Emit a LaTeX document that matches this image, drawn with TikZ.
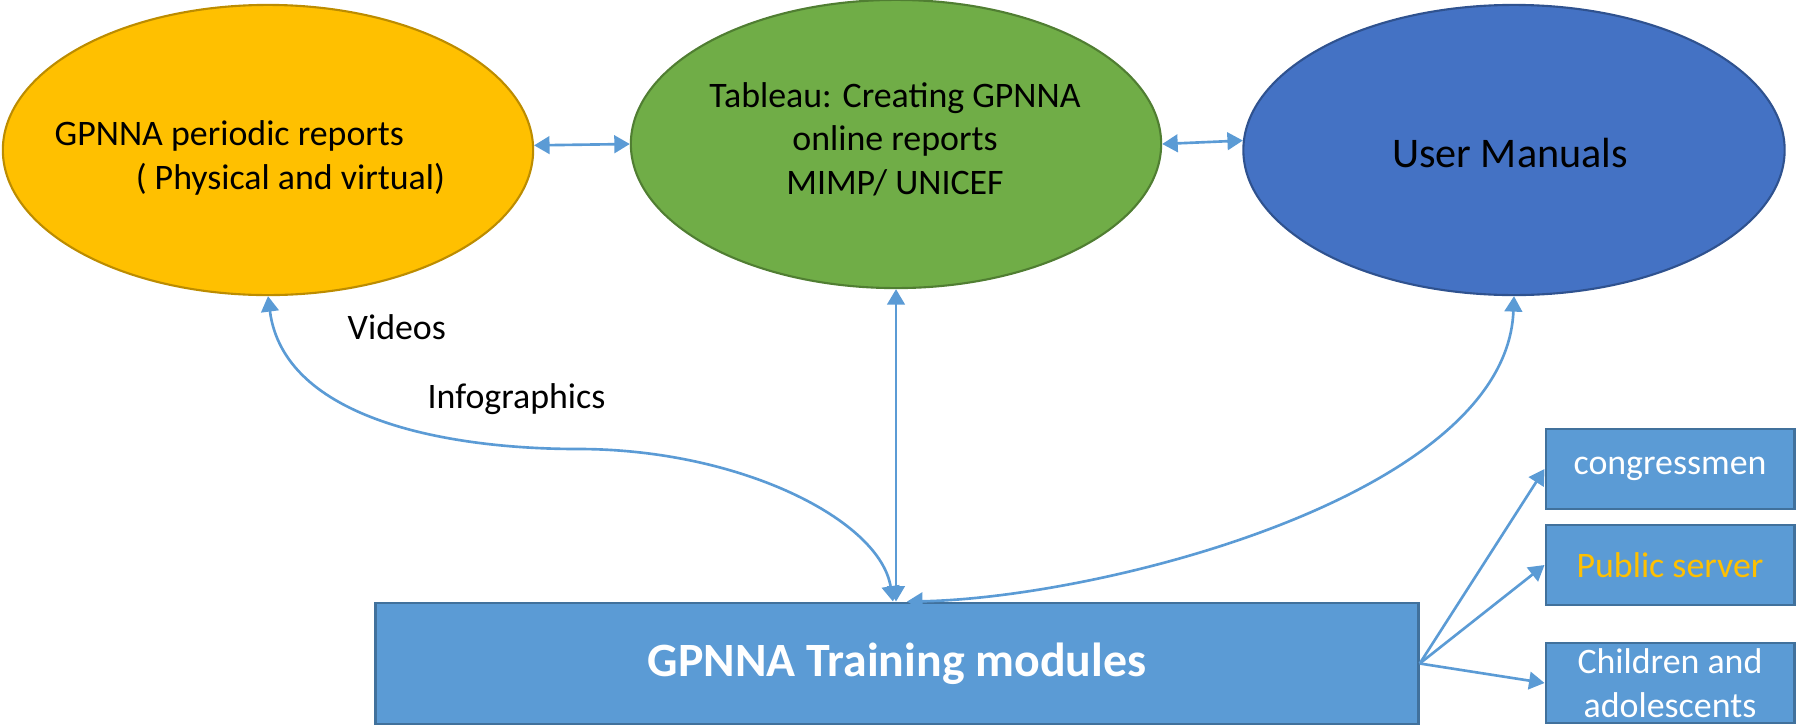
\documentclass[tikz,border=0pt]{standalone}
\usepackage{fontspec}
\setmainfont{Carlito}
\usetikzlibrary{shapes.geometric,arrows.meta}
\definecolor{cYel}{HTML}{FFC000}
\definecolor{cYelB}{HTML}{BC8C00}
\definecolor{cGrn}{HTML}{70AD47}
\definecolor{cGrnB}{HTML}{507E32}
\definecolor{cBlu}{HTML}{4472C4}
\definecolor{cBluB}{HTML}{2F528F}
\definecolor{cBox}{HTML}{5B9BD5}
\definecolor{cBoxB}{HTML}{41719C}
\begin{document}
\begin{tikzpicture}[x=0.01cm,y=-0.01cm,
  oval/.style={ellipse, inner sep=0pt, line width=0.6pt},
  txt/.style={font=\fontsize{10.2}{12.4}\selectfont, text=black, align=center, inner sep=0pt},
  box/.style={rectangle, fill=cBox, draw=cBoxB, line width=0.8pt, inner sep=0pt},
  tip/.tip={Triangle[length=4.4pt,width=5pt]},
  conn/.style={draw=cBox, line width=0.75pt, tip-tip},
  fan/.style={draw=cBox, line width=0.75pt, -tip}]
\useasboundingbox (0,0) rectangle (1797,724);
% ellipses
\node[oval, fill=cYel, draw=cYelB, minimum width=5.30cm, minimum height=2.90cm] (yel) at (268,150) {};
\node[oval, fill=cGrn, draw=cGrnB, minimum width=5.30cm, minimum height=2.88cm] (grn) at (896,144) {};
\node[oval, fill=cBlu, draw=cBluB, minimum width=5.41cm, minimum height=2.90cm] (blu) at (1514,150) {};
% ellipse texts
\node[txt, align=left, anchor=west] (yeltxt) at (54,158) {GPNNA periodic reports\\\hspace*{0.81cm}( Physical and virtual)};
\node[txt] (grntxt) at (895,139) {Tableau: Creating GPNNA\\online reports\\MIMP/ UNICEF};
\node[txt, font=\fontsize{12}{14.4}\selectfont] (blutxt) at (1510,153) {User Manuals};
% free labels
\node[txt, anchor=west] (vid) at (347,327) {Videos};
\node[txt, anchor=west] (info) at (427,399) {Infographics};
% main box
\node[box, minimum width=10.42cm, minimum height=1.21cm, text=white, font=\fontsize{13.6}{16}\selectfont\bfseries] (train) at (897,663.5) {GPNNA Training modules};
% right boxes
\node[box, minimum width=2.48cm, minimum height=0.80cm, text=white, font=\fontsize{10.2}{12.4}\selectfont] (cong) at (1670,469) {congressmen};
\node[box, minimum width=2.48cm, minimum height=0.80cm, text=cYel, font=\fontsize{10.2}{12.4}\selectfont] (pub) at (1670,565) {Public server};
\node[box, minimum width=2.48cm, minimum height=0.80cm, text=white, font=\fontsize{10.2}{12.4}\selectfont, align=center] (child) at (1670,683) {Children and\\adolescents};
% connectors between ellipses
\draw[conn] (yel.1) -- (grn.west);
\draw[conn] (grn.east) -- (blu.178.7);
% vertical
\draw[conn] (grn.south) -- ([xshift=-0.01cm]train.north);
% left S-curve
\draw[conn] (yel.south) .. controls +(16,124) and (450,449) .. (578,449)
  .. controls (740,449) and (880,520) .. ([xshift=-0.04cm]train.north);
% right curve
\draw[conn] (blu.south) .. controls +(-8,200) and (1100,598) .. ([xshift=0.10cm]train.north);
% fan
\draw[fan] (train.east) -- (cong.west);
\draw[fan] (train.east) -- (pub.west);
\draw[fan] (train.east) -- (child.west);
\end{tikzpicture}
\end{document}
